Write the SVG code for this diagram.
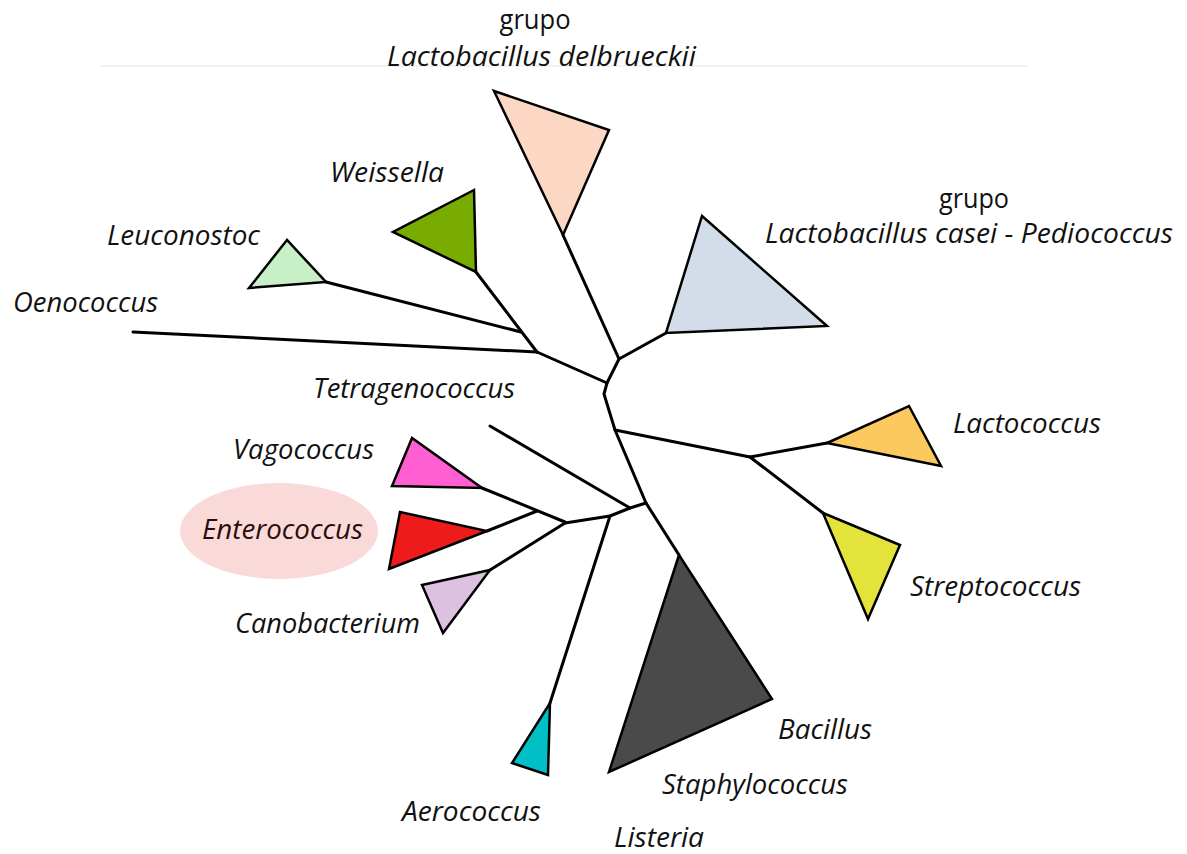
<svg xmlns="http://www.w3.org/2000/svg" width="1187" height="854" viewBox="0 0 1187 854">
<style>
.br{fill:none;stroke:#000;stroke-width:3;stroke-linejoin:round;stroke-linecap:round}
.tri{stroke:#000;stroke-width:2.5;stroke-linejoin:miter}
.lab{font-family:"Open Sans","Liberation Sans",sans-serif;font-style:italic;font-size:27px;fill:#111}
.grp{font-family:"Open Sans","Liberation Sans",sans-serif;font-size:27px;fill:#111}
</style>
<rect width="1187" height="854" fill="#fff"/>
<line x1="100" y1="66" x2="1028" y2="66" stroke="#f2f2f2" stroke-width="2"/>
<g id="highlight"><ellipse cx="279" cy="531" rx="99" ry="48" fill="#fadad8"/></g>
<g id="connectors">
<polyline class="br" points="563,235 619,359 607,383 604,394 615,430 646,503 679,555"/>
<line class="br" x1="666" y1="333" x2="619" y2="359"/>
<line class="br" x1="537" y1="352" x2="607" y2="383"/>
<line class="br" x1="133" y1="332" x2="537" y2="352"/>
<line class="br" x1="476" y1="272" x2="537" y2="352"/>
<line class="br" x1="326" y1="282" x2="521" y2="332"/>
<line class="br" x1="615" y1="430" x2="750" y2="457"/>
<line class="br" x1="750" y1="457" x2="827" y2="443"/>
<line class="br" x1="750" y1="457" x2="823" y2="513"/>
<polyline class="br" points="646,503 630,508 610,516 565,523"/>
<line class="br" x1="490" y1="426" x2="630" y2="508"/>
<line class="br" x1="610" y1="516" x2="550" y2="703"/>
<line class="br" x1="482" y1="488" x2="565" y2="522"/>
<line class="br" x1="487" y1="531" x2="537" y2="511"/>
<line class="br" x1="490" y1="570" x2="565" y2="523"/>
</g>
<g id="delbrueckii"><polygon class="tri" fill="#fcd7c4" points="494,91 609,130 563,235"/>
<text class="grp" x="535" y="29" text-anchor="middle" textLength="71" lengthAdjust="spacingAndGlyphs">grupo</text>
<text class="lab" x="387" y="66" textLength="309" lengthAdjust="spacingAndGlyphs">Lactobacillus delbrueckii</text></g>
<g id="casei"><polygon class="tri" fill="#d2dde9" points="702,216 827,326 666,333"/>
<text class="grp" x="974" y="208" text-anchor="middle" textLength="70" lengthAdjust="spacingAndGlyphs">grupo</text>
<text class="lab" x="765" y="243" textLength="408" lengthAdjust="spacingAndGlyphs">Lactobacillus casei - Pediococcus</text></g>
<g id="weissella"><polygon class="tri" fill="#78ac00" points="474,190 393,232 476,272"/>
<text class="lab" x="330" y="182" textLength="114" lengthAdjust="spacingAndGlyphs">Weissella</text></g>
<g id="leuconostoc"><polygon class="tri" fill="#c7f0c7" points="287,240 249,288 326,282"/>
<text class="lab" x="107" y="245" textLength="153" lengthAdjust="spacingAndGlyphs">Leuconostoc</text></g>
<g id="oenococcus"><text class="lab" x="13" y="312" textLength="145" lengthAdjust="spacingAndGlyphs">Oenococcus</text></g>
<g id="tetragenococcus"><text class="lab" x="313" y="398" textLength="202" lengthAdjust="spacingAndGlyphs">Tetragenococcus</text></g>
<g id="lactococcus"><polygon class="tri" fill="#fcc95e" points="827,443 909,406 941,466"/>
<text class="lab" x="953" y="433" textLength="148" lengthAdjust="spacingAndGlyphs">Lactococcus</text></g>
<g id="streptococcus"><polygon class="tri" fill="#e3e33b" points="823,513 900,545 868,619"/>
<text class="lab" x="910" y="596" textLength="171" lengthAdjust="spacingAndGlyphs">Streptococcus</text></g>
<g id="bacillus"><polygon class="tri" fill="#4a4a4a" points="679,555 772,699 609,772"/>
<text class="lab" x="778" y="739" textLength="94" lengthAdjust="spacingAndGlyphs">Bacillus</text>
<text class="lab" x="662" y="794" textLength="186" lengthAdjust="spacingAndGlyphs">Staphylococcus</text>
<text class="lab" x="614" y="847" textLength="90" lengthAdjust="spacingAndGlyphs">Listeria</text></g>
<g id="aerococcus"><polygon class="tri" fill="#00c0c6" points="550,703 548,775 512,763"/>
<text class="lab" x="402" y="821" textLength="139" lengthAdjust="spacingAndGlyphs">Aerococcus</text></g>
<g id="vagococcus"><polygon class="tri" fill="#ff5fd0" points="412,438 392,486 482,488"/>
<text class="lab" x="233" y="459" textLength="141" lengthAdjust="spacingAndGlyphs">Vagococcus</text></g>
<g id="enterococcus"><polygon class="tri" fill="#ee1b1b" points="400,512 389,569 487,531"/>
<text class="lab" x="202" y="539" textLength="161" lengthAdjust="spacingAndGlyphs" style="fill:#2a0c0c">Enterococcus</text></g>
<g id="canobacterium"><polygon class="tri" fill="#dcc2e0" points="422,585 490,570 443,633"/>
<text class="lab" x="235" y="633" textLength="185" lengthAdjust="spacingAndGlyphs">Canobacterium</text></g>
</svg>
